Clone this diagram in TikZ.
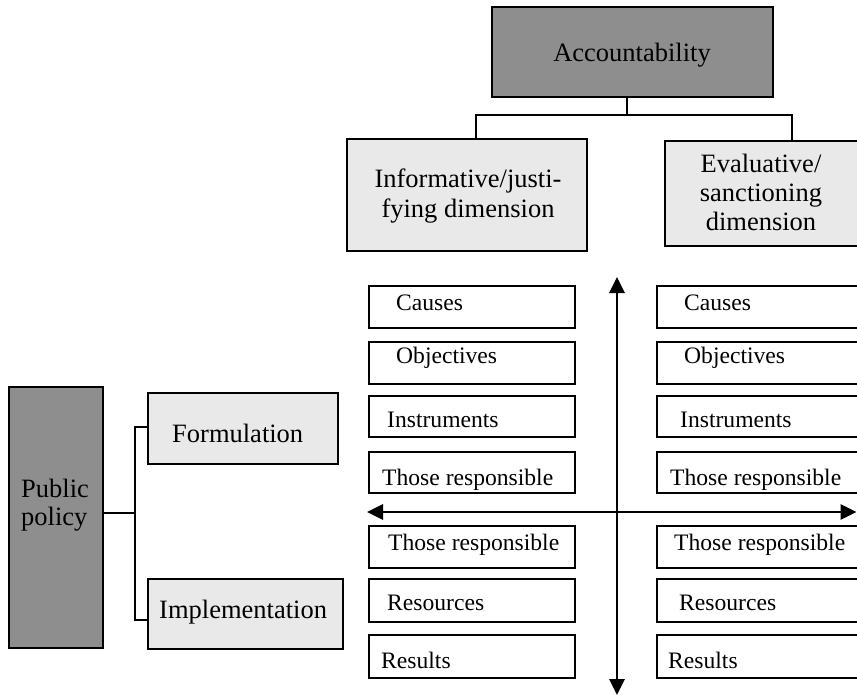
\documentclass[tikz,border=0pt]{standalone}
\usepackage{fontspec}
\setmainfont{Liberation Serif}
\usetikzlibrary{arrows.meta}
\definecolor{darkfill}{HTML}{8E8E8E}
\definecolor{lightfill}{HTML}{E9E9E9}
\tikzset{
  box/.style={draw=black, line width=2.9bp, rectangle, inner sep=0pt},
  darkbox/.style={box, fill=darkfill},
  lightbox/.style={box, fill=lightfill},
  itembox/.style={box, fill=white, minimum height=42bp},
  leftcol/.style={itembox, minimum width=206bp},
  rightcol/.style={itembox, minimum width=203bp},
  bigtxt/.style={inner sep=0pt, font=\fontsize{26.5bp}{29bp}\selectfont},
  smalltxt/.style={inner sep=0pt, anchor=base west, font=\fontsize{23.6bp}{26bp}\selectfont},
  conn/.style={line width=2.9bp, line cap=rect},
  axis/.style={line width=2.9bp, {Triangle[length=16bp,width=15bp]}-{Triangle[length=16bp,width=15bp]}}
}
\begin{document}
\begin{tikzpicture}[x=1bp,y=-1bp]
\clip (0,0) rectangle (857,696);
\fill[white] (0,0) rectangle (857,696);

% top boxes
\node[darkbox, minimum width=281bp, minimum height=90bp] (acc) at (632.5,52) {};
\node[lightbox, minimum width=240bp, minimum height=112bp] (inf) at (467,195) {};
\node[lightbox, minimum width=195bp, minimum height=105bp] (eva) at (762.5,193.5) {};

% multi-line nodes: the base anchor is the baseline of the last line
\node[bigtxt, anchor=base] (acct) at (632,62) {Accountability};
\node[bigtxt, anchor=base, align=center] (inft) at (468,217) {Informative/justi-\\[1bp]fying dimension};
\node[bigtxt, anchor=base, align=center] (evat) at (761,230) {Evaluative/\\sanctioning\\dimension};

% tree connector at top
\coordinate (jm) at (627,115);
\coordinate (jl) at (476,115);
\coordinate (jr) at (792,115);
\draw[conn] (jm |- acc.south) -- (jm);
\draw[conn] (jl |- inf.north) -- (jl) -- (jr) -- (jr |- eva.north);

% left side
\node[darkbox, minimum width=94bp, minimum height=261bp] (pp) at (56,517.5) {};
\node[lightbox, minimum width=190bp, minimum height=71bp] (form) at (243,428.5) {};
\node[lightbox, minimum width=195bp, minimum height=70bp] (impl) at (245.5,614) {};

\node[bigtxt, anchor=base west, align=left] (ppt) at (21,525) {Public\\[-1bp]policy};
\node[bigtxt, anchor=base west] (formt) at (172,442) {Formulation};
\node[bigtxt, anchor=base west] (implt) at (159,618) {Implementation};

\coordinate (pj) at (135,513);
\coordinate (pt) at (135,427);
\coordinate (pb) at (135,620);
\draw[conn] (pp.east |- pj) -- (pj);
\draw[conn] (form.west |- pt) -- (pt) -- (pb) -- (impl.west |- pb);

% item boxes, left column
\node[leftcol] (l1) at (472,307) {};
\node[leftcol] (l2) at (472,363) {};
\node[leftcol, minimum height=41bp] (l3) at (472,416.5) {};
\node[leftcol, minimum height=41bp] (l4) at (472,472.5) {};
\node[leftcol] (l5) at (472,547) {};
\node[leftcol, minimum height=43bp] (l6) at (472,600.5) {};
\node[leftcol, minimum height=43bp] (l7) at (472,656.5) {};

% item boxes, right column
\node[rightcol] (r1) at (758.5,307) {};
\node[rightcol] (r2) at (758.5,363) {};
\node[rightcol, minimum height=41bp] (r3) at (758.5,416.5) {};
\node[rightcol, minimum height=41bp] (r4) at (758.5,472.5) {};
\node[rightcol] (r5) at (758.5,547) {};
\node[rightcol, minimum height=43bp] (r6) at (758.5,600.5) {};
\node[rightcol, minimum height=43bp] (r7) at (758.5,656.5) {};

% item texts, left
\node[smalltxt] (l1t) at (396,310) {Causes};
\node[smalltxt] (l2t) at (396,363) {Objectives};
\node[smalltxt] (l3t) at (387,427) {Instruments};
\node[smalltxt] (l4t) at (382,485) {Those responsible};
\node[smalltxt] (l5t) at (388,550) {Those responsible};
\node[smalltxt] (l6t) at (387,610) {Resources};
\node[smalltxt] (l7t) at (381,668) {Results};

% item texts, right
\node[smalltxt] (r1t) at (684,310) {Causes};
\node[smalltxt] (r2t) at (684,363) {Objectives};
\node[smalltxt] (r3t) at (680,427) {Instruments};
\node[smalltxt] (r4t) at (670,485) {Those responsible};
\node[smalltxt] (r5t) at (674,550) {Those responsible};
\node[smalltxt] (r6t) at (679,610) {Resources};
\node[smalltxt] (r7t) at (668,668) {Results};

% axes
\coordinate (vtop) at (617,277);
\coordinate (vbot) at (617,695);
\coordinate (hl) at (367,512);
\coordinate (hr) at (856.5,512);
\draw[axis] (vbot) -- (vtop);
\draw[axis] (hl) -- (hr);
\end{tikzpicture}
\end{document}
